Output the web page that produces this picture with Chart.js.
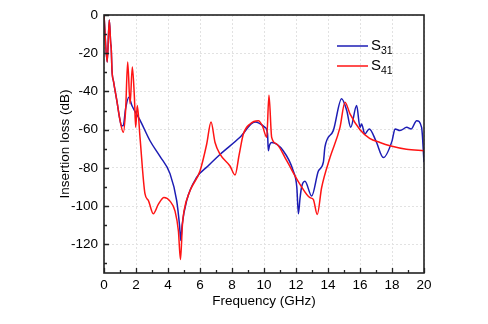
<!DOCTYPE html>
<html>
<head>
<meta charset="utf-8">
<script src="https://cdn.jsdelivr.net/npm/chart.js@4.4.0/dist/chart.umd.min.js"></script>
<style>
  html, body { margin: 0; padding: 0; background: #fff; }
</style>
</head>
<body>
<canvas id="chart" width="488" height="324"></canvas>
<script>
// ---- data ----
const s31Freq = [0, 0.2, 0.33, 0.42, 0.45, 0.5, 0.6, 0.8, 1.0, 1.1, 1.2, 1.35, 1.55, 1.75, 2.25, 2.875, 3.5, 4.125, 4.54, 4.72, 4.8, 4.88, 5.17, 5.79, 6.5, 7.25, 8.5, 9.44, 10.06, 10.22, 10.27, 10.35, 10.48, 11.2, 11.83, 12.05, 12.15, 12.25, 12.35, 12.56, 12.98, 13.4, 13.71, 13.81, 14.33, 14.85, 15.17, 15.42, 15.79, 16.0, 16.1, 16.3, 16.58, 17.0, 17.46, 18.0, 18.19, 18.5, 18.92, 19.2, 19.54, 19.85, 20];
const s31Loss = [0, -24.6, -2.6, -15, -17, -29, -35, -44.7, -55, -58, -58, -49, -43, -47.5, -55, -65.8, -74, -83, -97, -110, -118, -110, -97, -85, -79, -73, -64, -56, -58.8, -62, -71, -68, -66.7, -71, -81.6, -90, -104, -96, -90, -87, -94.7, -81.6, -77, -69, -60.5, -43.8, -50, -58.8, -47.4, -58.8, -57, -62.3, -59.6, -66, -74.6, -66, -59.6, -60.5, -58.8, -59.6, -55.3, -58.8, -77];

const s41Freq = [0, 0.2, 0.33, 0.42, 0.45, 0.5, 0.6, 0.8, 1.0, 1.21, 1.35, 1.48, 1.63, 1.77, 1.9, 1.98, 2.08, 2.25, 2.56, 2.77, 3.08, 3.4, 3.75, 4.125, 4.44, 4.65, 4.78, 4.9, 5.0, 5.375, 6.0, 6.42, 6.69, 6.94, 7.25, 7.875, 8.19, 8.45, 8.71, 9.125, 9.65, 9.9, 10.17, 10.31, 10.48, 10.79, 11.4, 12.25, 12.875, 13.08, 13.33, 13.6, 14.125, 14.75, 15.06, 15.375, 16.0, 16.6, 17.25, 17.875, 18.9, 20];
const s41Loss = [0, -24.6, -2.6, -15, -17, -29, -35, -44.7, -55, -61.4, -50, -24.6, -46.5, -27.2, -43, -58.8, -47.4, -64, -93.5, -97, -104, -99, -95.5, -97.4, -102.6, -113, -128, -110, -102.6, -92, -81.6, -67.5, -56, -66.7, -72.8, -79, -83.7, -73, -62.3, -57, -55.3, -58, -64, -42, -64, -67.5, -76, -88.6, -95.6, -96.5, -104.4, -90.4, -74.6, -58.8, -45.6, -51.7, -60, -64.5, -66.7, -68.4, -70.2, -71];

const xTicks = [0, 2, 4, 6, 8, 10, 12, 14, 16, 18, 20];
const yTicks = [-120, -100, -80, -60, -40, -20, 0];

const toPoints = (xs, ys) => xs.map((v, i) => ({ x: v, y: ys[i] }));

// ---- frame, inward ticks and legend with subscripts ----
const framePlugin = {
  id: "frame",
  afterDraw(chart) {
    const { ctx, chartArea: a, scales: { x, y } } = chart;
    ctx.save();
    ctx.strokeStyle = "#222";
    ctx.lineWidth = 1.3;
    ctx.beginPath();
    for (let f = 0; f <= 20; f += 1) {
      const px = Math.round(x.getPixelForValue(f)) + 0.5;
      const len = f % 2 === 0 ? 5 : 3;
      ctx.moveTo(px, a.bottom);
      ctx.lineTo(px, a.bottom - len);
    }
    for (let v = -130; v <= 0; v += 10) {
      const py = Math.round(y.getPixelForValue(v)) + 0.5;
      const len = v % 20 === 0 ? 5 : 3;
      ctx.moveTo(a.left, py);
      ctx.lineTo(a.left + len, py);
    }
    ctx.stroke();
    ctx.lineWidth = 1.6;
    ctx.strokeRect(a.left, a.top, a.right - a.left, a.bottom - a.top);

    // legend
    const items = [chart.data.datasets[1], chart.data.datasets[0]];
    items.forEach((ds, i) => {
      const ly = 46 + i * 20;
      ctx.strokeStyle = ds.borderColor;
      ctx.lineWidth = 1.5;
      ctx.beginPath();
      ctx.moveTo(337, ly);
      ctx.lineTo(368, ly);
      ctx.stroke();
      ctx.fillStyle = "#000";
      ctx.textBaseline = "middle";
      ctx.font = "15px 'Liberation Sans', Arial, sans-serif";
      const main = ds.label.charAt(0);
      ctx.fillText(main, 371, ly);
      const w = ctx.measureText(main).width;
      ctx.font = "10.5px 'Liberation Sans', Arial, sans-serif";
      ctx.fillText(ds.label.slice(1), 371 + w, ly + 5);
    });
    ctx.restore();
  }
};

const tickFont = { family: "'Liberation Sans', Arial, sans-serif", size: 13.5 };
const titleFont = { family: "'Liberation Sans', Arial, sans-serif", size: 13.5 };

new Chart(document.getElementById("chart"), {
  type: "line",
  data: {
    datasets: [
      {
        label: "S41",
        data: toPoints(s41Freq, s41Loss),
        borderColor: "#ff1414",
        borderWidth: 1.5,
        pointRadius: 0,
        cubicInterpolationMode: "monotone",
        order: 0
      },
      {
        label: "S31",
        data: toPoints(s31Freq, s31Loss),
        borderColor: "#1c1cb4",
        borderWidth: 1.5,
        pointRadius: 0,
        cubicInterpolationMode: "monotone",
        order: 1
      }
    ]
  },
  options: {
    responsive: false,
    animation: false,
    layout: { padding: { left: 57, top: 15, right: 64, bottom: 15 } },
    plugins: { legend: { display: false }, tooltip: { enabled: false } },
    scales: {
      x: {
        type: "linear",
        min: 0,
        max: 20,
        afterBuildTicks: s => { s.ticks = xTicks.map(v => ({ value: v })); },
        afterFit: s => { s.height = 36; },
        ticks: { color: "#000", font: tickFont, padding: 4, maxRotation: 0 },
        grid: { color: "#e2e2e2", drawTicks: false, lineWidth: 1 },
        border: { display: false, dash: [2, 2] },
        title: { display: true, text: "Frequency (GHz)", color: "#000", font: titleFont, padding: 0 }
      },
      y: {
        type: "linear",
        min: -135,
        max: 0,
        afterBuildTicks: s => { s.ticks = yTicks.map(v => ({ value: v })); },
        afterFit: s => { s.width = 47; },
        ticks: { color: "#000", font: tickFont, padding: 6 },
        grid: { color: "#e2e2e2", drawTicks: false, lineWidth: 1 },
        border: { display: false, dash: [2, 2] },
        title: { display: true, text: "Insertion loss (dB)", color: "#000", font: titleFont, padding: 0 }
      }
    }
  },
  plugins: [framePlugin]
});
</script>
</body>
</html>
